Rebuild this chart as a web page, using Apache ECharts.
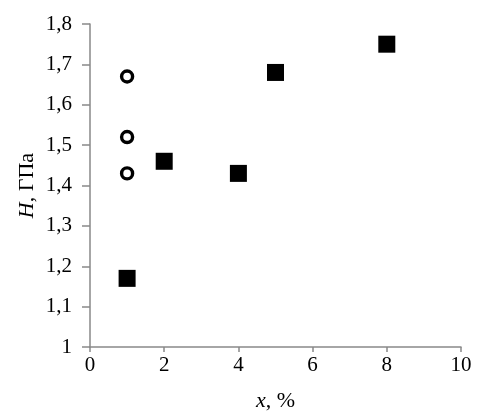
<!DOCTYPE html>
<html>
<head>
<meta charset="utf-8">
<script src="https://cdn.jsdelivr.net/npm/echarts@6/dist/echarts.min.js"></script>
<style>
  html, body { margin: 0; padding: 0; background: #fff; }
  #chart { width: 491px; height: 418px; }
</style>
</head>
<body>
<div id="chart"></div>
<script>
// squares: x, %  /  H, GPa
const squareX = [1, 2, 4, 5, 8];
const squareH = [1.17, 1.46, 1.43, 1.68, 1.75];
// open circles
const circleX = [1, 1, 1];
const circleH = [1.43, 1.52, 1.67];

const xTicks = [0, 2, 4, 6, 8, 10];
const yTicks = [1, 1.1, 1.2, 1.3, 1.4, 1.5, 1.6, 1.7, 1.8];

const font = 'Liberation Serif';
const axisGray = '#898989';

const chart = echarts.init(document.getElementById('chart'));

const option = {
  animation: false,
  textStyle: { fontFamily: font },
  grid: { left: 90, right: 30, top: 24, bottom: 71 },
  xAxis: {
    type: 'value',
    min: xTicks[0],
    max: xTicks[xTicks.length - 1],
    interval: 2,
    name: '{i|x}, %',
    nameLocation: 'middle',
    nameGap: 43,
    nameMoveOverlap: false,
    nameTextStyle: {
      fontFamily: font, fontSize: 22, color: '#000',
      rich: { i: { fontFamily: font, fontSize: 22, fontStyle: 'italic', color: '#000' } }
    },
    axisLine: { lineStyle: { color: axisGray, width: 1.5 } },
    axisTick: { show: true, length: 5, lineStyle: { color: axisGray, width: 1.5 } },
    axisLabel: { fontFamily: font, fontSize: 21, color: '#000', margin: 8 },
    splitLine: { show: false }
  },
  yAxis: {
    type: 'value',
    min: yTicks[0],
    max: yTicks[yTicks.length - 1],
    interval: 0.1,
    name: '{i|H}, ГПа',
    nameLocation: 'middle',
    nameGap: 52,
    nameRotate: 90,
    nameMoveOverlap: false,
    nameTextStyle: {
      fontFamily: font, fontSize: 22, color: '#000',
      rich: { i: { fontFamily: font, fontSize: 22, fontStyle: 'italic', color: '#000' } }
    },
    axisLine: { show: true, lineStyle: { color: axisGray, width: 1.5 } },
    axisTick: { show: true, length: 8, lineStyle: { color: axisGray, width: 1.5 } },
    axisLabel: {
      fontFamily: font, fontSize: 21, color: '#000', margin: 18,
      formatter: v => (Math.round(v * 10) / 10).toString().replace('.', ',')
    },
    splitLine: { show: false }
  },
  series: [
    {
      name: 'squares',
      type: 'scatter',
      symbol: 'rect',
      symbolSize: 17,
      itemStyle: { color: '#000', opacity: 1 },
      data: squareX.map((x, i) => [x, squareH[i]])
    },
    {
      name: 'circles',
      type: 'scatter',
      symbol: 'circle',
      symbolSize: 11,
      itemStyle: { color: '#fff', borderColor: '#000', borderWidth: 3.4, opacity: 1 },
      data: circleX.map((x, i) => [x, circleH[i]])
    }
  ]
};

chart.setOption(option);
</script>
</body>
</html>
